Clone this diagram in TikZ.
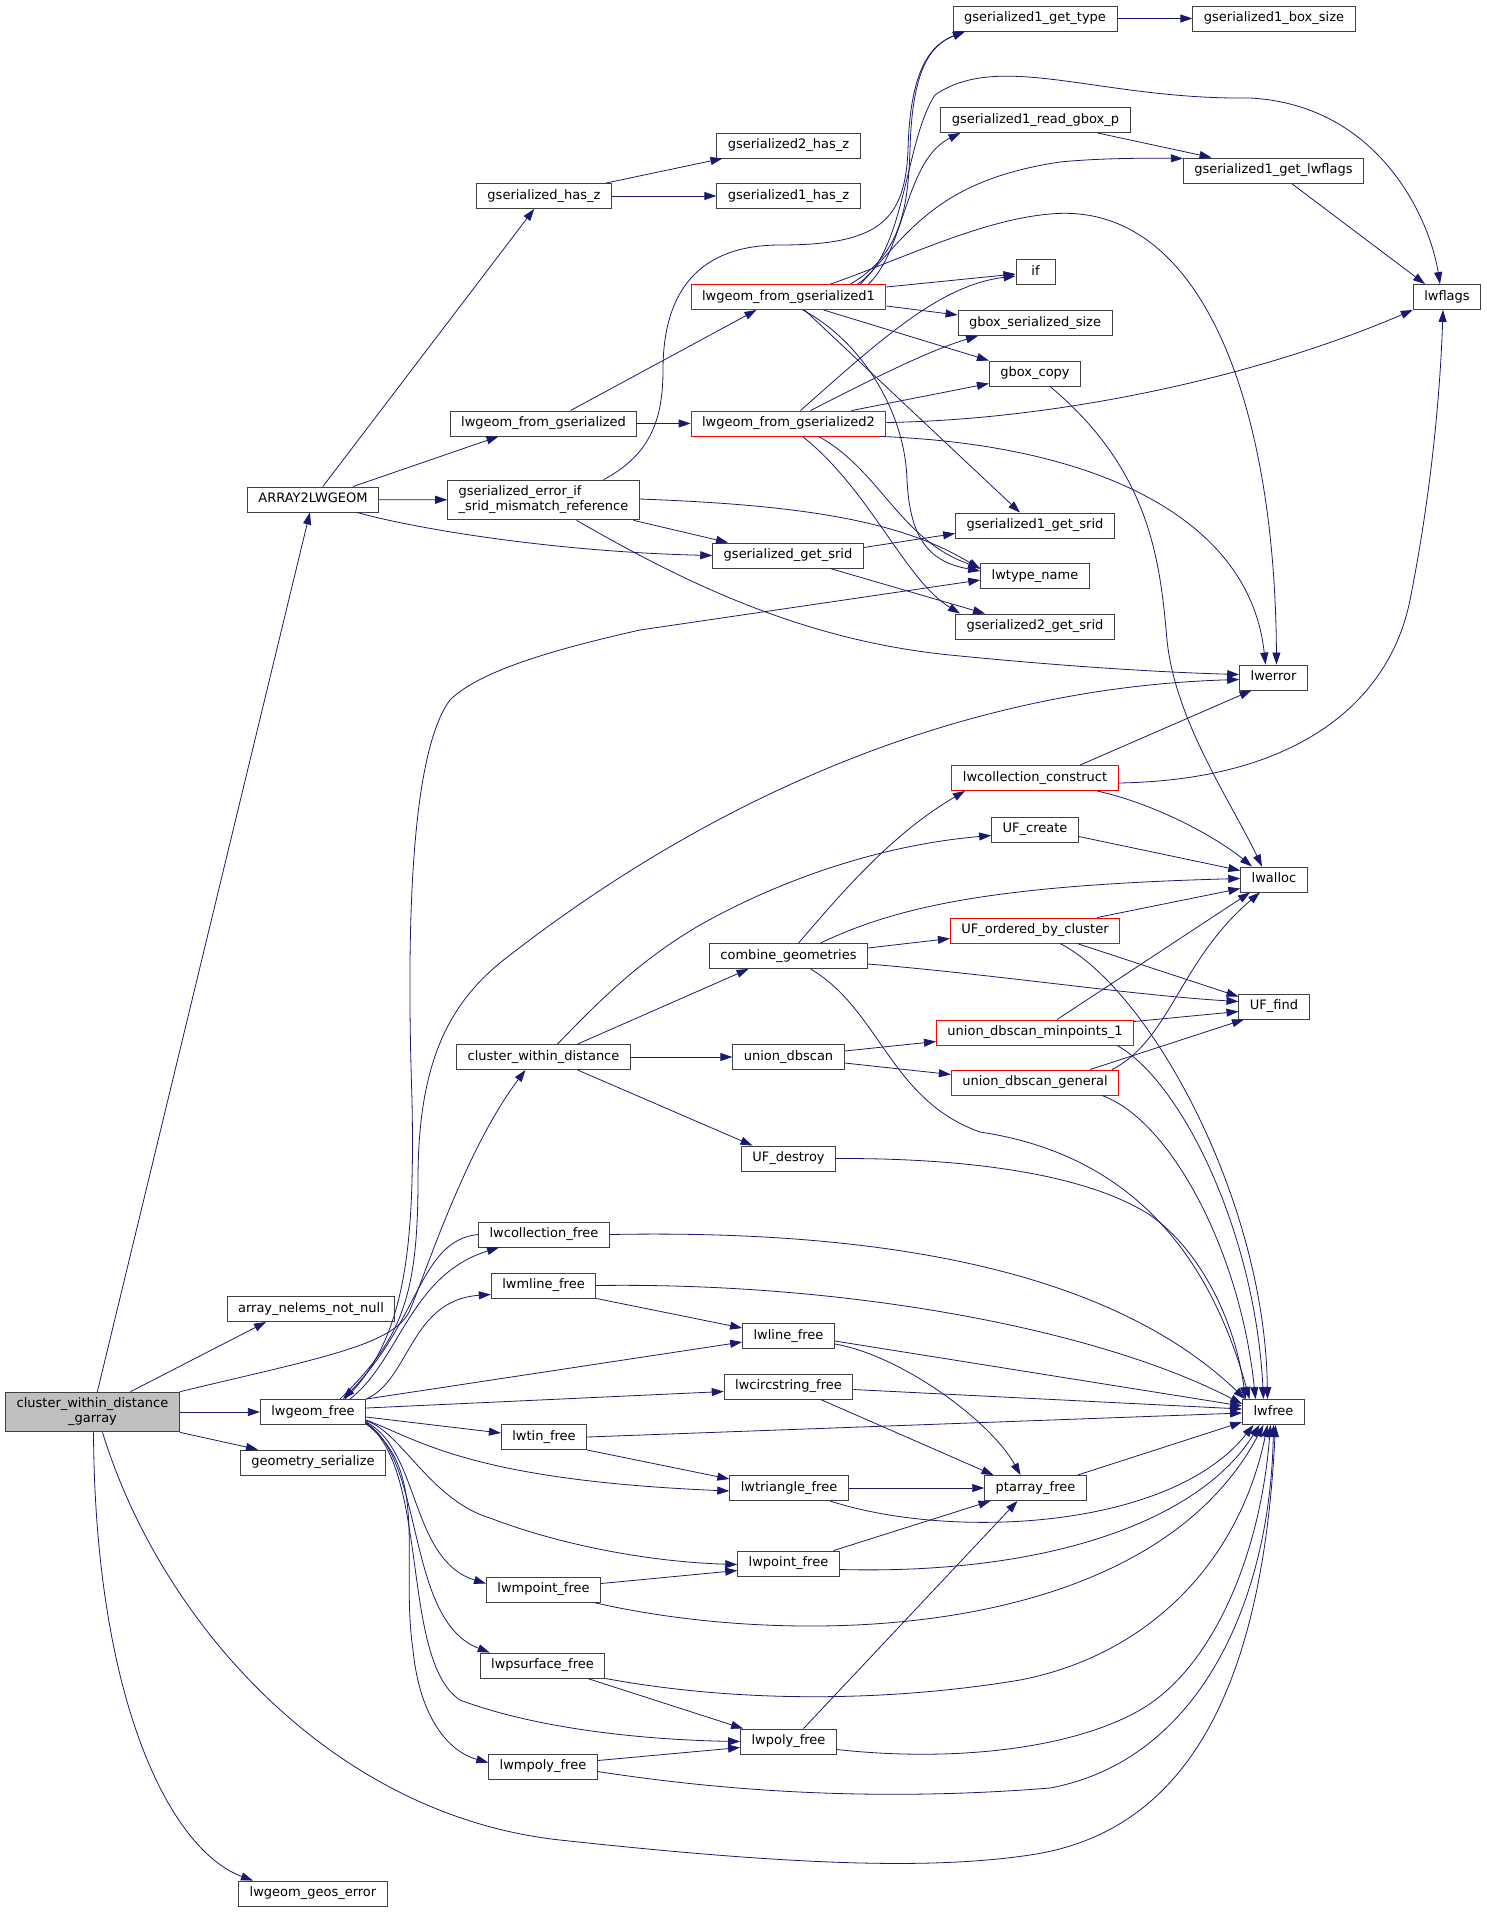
\documentclass[tikz,border=0pt]{standalone}
\usepackage{fontspec}
\usepackage{tikz}
\usetikzlibrary{arrows.meta,positioning}
\newfontfamily\dvsans{DejaVu Sans}
\newcommand{\fnfont}{\dvsans\fontsize{13}{15}\selectfont}
\definecolor{edgeblue}{HTML}{191970}
\definecolor{boxgray}{HTML}{404040}
\definecolor{rootgray}{HTML}{BFBFBF}
\tikzstyle{fnbase} = [rectangle, draw=boxgray, line width=0.9pt, fill=white,
                      font=\fnfont, inner xsep=11pt, inner ysep=5.9pt, minimum width=39pt]
\tikzstyle{fn}     = [fnbase, text height=10pt, text depth=3.2pt]
\tikzstyle{fnred}  = [fn, draw=red]
\tikzstyle{fntwo}  = [fnbase, align=center]
\tikzstyle{call}   = [draw=edgeblue, line width=0.8pt, -{Triangle[length=12pt,width=8pt]}]

\begin{document}
\begin{tikzpicture}[x=1pt, y=-1pt]
		\useasboundingbox (0,0) rectangle (1487,1912);

		\node[fntwo, fill=rootgray] (garray) at (92.5,1412) {cluster\_within\_distance\\\_garray};

		\node[fn] (a2lw)    at (313,499.5)  {ARRAY2LWGEOM};
		\node[fn] (nelems)  at (311,1309)   {array\_nelems\_not\_null};
		\node[fn] (lwgfree) at (313,1412)   {lwgeom\_free};
		\node[fn] (geomser) at (313,1462.5) {geometry\_serialize};
		\node[fn] (geoserr) at (313,1893.5) {lwgeom\_geos\_error};

		\node[fn] (hasz)       at (544,196)    {gserialized\_has\_z};
		\node[fn] (fromgs)     at (543.5,423.5) {lwgeom\_from\_gserialized};
		\node[fntwo, align=left] (sridmm) at (543.5,500) {gserialized\_error\_if\\\_srid\_mismatch\_reference};
		\node[fn] (cwd)        at (543.5,1057) {cluster\_within\_distance};
		\node[fn] (collfree)   at (544,1234.5) {lwcollection\_free};
		\node[fn] (mlinefree)  at (543.5,1285.5) {lwmline\_free};
		\node[fn] (tinfree)    at (544,1437)   {lwtin\_free};
		\node[fn] (mpointfree) at (543.5,1589.5) {lwmpoint\_free};
		\node[fn] (psurffree)  at (542.5,1665.5) {lwpsurface\_free};
		\node[fn] (mpolyfree)  at (543,1766.5) {lwmpoly\_free};

		\node[fn]    (hasz2)     at (788.5,145.5) {gserialized2\_has\_z};
		\node[fn]    (hasz1)     at (788.5,196)   {gserialized1\_has\_z};
		\node[fnred] (fromgs1)   at (788.5,297)   {lwgeom\_from\_gserialized1};
		\node[fnred] (fromgs2)   at (788.5,423.5) {lwgeom\_from\_gserialized2};
		\node[fn]    (getsrid)   at (788,555.5)   {gserialized\_get\_srid};
		\node[fn]    (combine)   at (788.5,956)   {combine\_geometries};
		\node[fn]    (dbscan)    at (788.5,1057)  {union\_dbscan};
		\node[fn]    (ufdestroy) at (788.5,1158.5) {UF\_destroy};
		\node[fn]    (linefree)  at (788.5,1336)  {lwline\_free};
		\node[fn]    (circfree)  at (788.5,1386.5) {lwcircstring\_free};
		\node[fn]    (trifree)   at (789,1488)    {lwtriangle\_free};
		\node[fn]    (pointfree) at (788.5,1563.5) {lwpoint\_free};
		\node[fn]    (polyfree)  at (788.5,1741.5) {lwpoly\_free};

		\node[fn]    (gettype)   at (1035,18.5)   {gserialized1\_get\_type};
		\node[fn]    (readgbox)  at (1035.5,120)  {gserialized1\_read\_gbox\_p};
		\node[fn]    (ifnode)    at (1035.5,272)  {if};
		\node[fn]    (gboxsize)  at (1035,323)    {gbox\_serialized\_size};
		\node[fn]    (gboxcopy)  at (1035,373.5)  {gbox\_copy};
		\node[fn]    (getsrid1)  at (1035,525.5)  {gserialized1\_get\_srid};
		\node[fn]    (typename)  at (1035,576)    {lwtype\_name};
		\node[fn]    (getsrid2)  at (1035,626.5)  {gserialized2\_get\_srid};
		\node[fnred] (collcons)  at (1035,778)    {lwcollection\_construct};
		\node[fn]    (ufcreate)  at (1035,829.5)  {UF\_create};
		\node[fnred] (ufordered) at (1035,930.5)  {UF\_ordered\_by\_cluster};
		\node[fnred] (minpts)    at (1035,1032.5) {union\_dbscan\_minpoints\_1};
		\node[fnred] (general)   at (1035,1082.5) {union\_dbscan\_general};
		\node[fn]    (ptarr)     at (1035.5,1488) {ptarray\_free};

		\node[fn] (boxsize)  at (1274,18.5)    {gserialized1\_box\_size};
		\node[fn] (getflags) at (1273.5,170.5) {gserialized1\_get\_lwflags};
		\node[fn] (lwerror)  at (1273.5,677.5) {lwerror};
		\node[fn] (lwalloc)  at (1274,879.5)   {lwalloc};
		\node[fn] (uffind)   at (1274,1006.5)  {UF\_find};
		\node[fn] (lwfree)   at (1273.5,1412)  {lwfree};
		\node[fn] (lwflags)  at (1447,297)     {lwflags};

		% cluster_within_distance_garray
		\draw[call] (garray) -- (a2lw);
		\draw[call] ([xshift=38pt]garray.north) -- ([xshift=-45pt]nelems.south);
		\draw[call] (garray.north east) .. controls (320,1358) and (395,1345) .. (410,1310) .. controls (425,1275) and (465,1150) .. ([xshift=-18pt]cwd.south);
		\draw[call] (garray) -- (lwgfree);
		\draw[call] (garray.south east) -- ([xshift=-55pt]geomser.north);
		\draw[call] ([xshift=1pt]garray.south) .. controls (95,1700) and (170,1850) .. ([xshift=-60pt]geoserr.north);
		\draw[call] ([xshift=10pt]garray.south) .. controls (160,1620) and (330,1815) .. (560,1840) .. controls (790,1865) and (930,1870) .. (1030,1855) .. controls (1180,1833) and (1262,1700) .. ([xshift=2pt]lwfree.south);

		% ARRAY2LWGEOM
		\draw[call] (a2lw) -- (hasz);
		\draw[call] ([xshift=40pt]a2lw.north) -- ([xshift=-45pt]fromgs.south);
		\draw[call] (a2lw) -- (sridmm);
		\draw[call] ([xshift=44pt]a2lw.south) .. controls (420,530) and (560,552) .. (getsrid.west);
		\draw[call] ([xshift=62pt]hasz.north) -- ([xshift=-66pt]hasz2.south);
		\draw[call] (hasz) -- (hasz1);
		\draw[call] ([xshift=27pt]fromgs.north) -- ([xshift=-32pt]fromgs1.south);
		\draw[call] (fromgs) -- (fromgs2);

		% gserialized_error_if_srid_mismatch_reference
		\draw[call] ([xshift=60pt]sridmm.north) .. controls (650,455) and (663,420) .. (663,370) .. controls (663,290) and (700,245) .. (780,245) .. controls (880,245) and (905,220) .. (908,150) .. controls (910,70) and (930,45) .. ([xshift=-70pt]gettype.south);
		\draw[call] ([xshift=90pt]sridmm.south) -- ([xshift=-60pt]getsrid.north);
		\draw[call] ([yshift=1pt]sridmm.east) .. controls (800,505) and (900,520) .. ([yshift=7pt]typename.west);
		\draw[call] ([xshift=33pt]sridmm.south) .. controls (680,580) and (800,640) .. (950,655) .. controls (1050,665) and (1150,672) .. ([yshift=3pt]lwerror.west);

		% lwgeom_from_gserialized1
		\draw[call] ([xshift=62pt]fromgs1.north) .. controls (900,255) and (908,210) .. (910,150) .. controls (912,70) and (930,45) .. ([xshift=-70pt]gettype.south);
		\draw[call] ([xshift=69pt]fromgs1.north) .. controls (905,255) and (905,140) .. (935,95) .. controls (1000,50) and (1100,100) .. (1250,98) .. controls (1380,105) and (1430,220) .. ([xshift=-7pt]lwflags.north);
		\draw[call] ([xshift=80pt]fromgs1.north) .. controls (905,250) and (905,160) .. ([xshift=-75pt]readgbox.south);
		\draw[call] ([xshift=72pt]fromgs1.north) .. controls (910,230) and (940,180) .. (1060,162) .. controls (1100,158) and (1150,158) .. ([yshift=12pt]getflags.west);
		\draw[call] ([xshift=42pt]fromgs1.north) .. controls (900,260) and (980,220) .. (1050,214) .. controls (1200,200) and (1275,400) .. ([xshift=3pt]lwerror.north);
		\draw[call] ([yshift=10pt]fromgs1.east) -- ([yshift=-2pt]ifnode.west);
		\draw[call] ([yshift=-9pt]fromgs1.east) -- ([yshift=8pt]gboxsize.west);
		\draw[call] ([xshift=35pt]fromgs1.south) -- (gboxcopy.north west);
		\draw[call] ([xshift=16pt]fromgs1.south) -- ([xshift=-15pt]getsrid1.north);
		\draw[call] ([xshift=14pt]fromgs1.south) .. controls (860,340) and (905,410) .. (907,480) .. controls (910,540) and (930,562) .. ([yshift=5pt]typename.west);

		% lwgeom_from_gserialized2
		\draw[call] ([yshift=1pt]fromgs2.east) .. controls (1050,420) and (1250,380) .. (lwflags.south west);
		\draw[call] ([xshift=12pt]fromgs2.north) .. controls (880,340) and (940,285) .. ([yshift=-4pt]ifnode.west);
		\draw[call] ([xshift=22pt]fromgs2.north) .. controls (870,380) and (930,350) .. ([xshift=-57pt]gboxsize.south);
		\draw[call] ([xshift=63pt]fromgs2.north) -- ([yshift=-10pt]gboxcopy.west);
		\draw[call] ([xshift=92pt]fromgs2.south) .. controls (1100,445) and (1250,520) .. ([xshift=-8pt]lwerror.north);
		\draw[call] ([xshift=30pt]fromgs2.south) .. controls (880,470) and (900,540) .. ([yshift=8pt]typename.west);
		\draw[call] ([xshift=14pt]fromgs2.south) .. controls (870,490) and (905,580) .. ([xshift=-75pt]getsrid2.north);

		\draw[call] ([yshift=8pt]getsrid.east) -- ([yshift=-8pt]getsrid1.west);
		\draw[call] ([xshift=42pt]getsrid.south) -- ([xshift=-50pt]getsrid2.north);
		\draw[call] (gettype) -- (boxsize);
		\draw[call] ([xshift=62pt]readgbox.south) -- ([xshift=-62pt]getflags.north);
		\draw[call] ([xshift=18pt]getflags.south) -- ([xshift=-22pt]lwflags.north);
		\draw[call] ([xshift=15pt]gboxcopy.south) .. controls (1150,470) and (1160,560) .. (1167,640) .. controls (1175,720) and (1230,800) .. ([xshift=-12pt]lwalloc.north);

		% lwgeom_free
		\draw[call] ([xshift=27pt]lwgfree.north) .. controls (400,1340) and (418,1300) .. (418,1180) .. controls (418,1060) and (450,1000) .. (510,955) .. controls (620,870) and (880,690) .. ([yshift=-2pt]lwerror.west);
		\draw[call] ([xshift=32pt]lwgfree.north) .. controls (405,1340) and (415,1250) .. (412,1100) .. controls (408,980) and (405,760) .. (450,700) .. controls (480,670) and (560,648) .. (640,630) -- ([yshift=-4pt]typename.west);
		\draw[call] ([xshift=37pt]lwgfree.north) .. controls (400,1360) and (410,1275) .. ([xshift=-45pt]collfree.south);
		\draw[call] (collfree.west) .. controls (420,1240) and (420,1320) .. ([xshift=30pt]lwgfree.north);
		\draw[call] (lwgfree.north east) .. controls (410,1380) and (410,1300) .. ([yshift=-9pt]mlinefree.west);
		\draw[call] (lwgfree.north east) -- ([yshift=-6pt]linefree.west);
		\draw[call] ([yshift=4pt]lwgfree.east) -- ([yshift=-5pt]circfree.west);
		\draw[call] ([yshift=-5pt]lwgfree.east) -- ([yshift=4pt]tinfree.west);
		\draw[call] ([yshift=-8pt]lwgfree.east) .. controls (420,1440) and (470,1480) .. ([yshift=-3pt]trifree.west);
		\draw[call] ([yshift=-9pt]lwgfree.east) .. controls (400,1430) and (430,1500) .. (490,1518) .. controls (560,1545) and (650,1562) .. ([yshift=-1pt]pointfree.west);
		\draw[call] ([yshift=-10pt]lwgfree.east) .. controls (420,1450) and (410,1560) .. ([yshift=6pt]mpointfree.west);
		\draw[call] ([yshift=-11pt]lwgfree.east) .. controls (425,1460) and (405,1620) .. ([xshift=10pt]psurffree.north west);
		\draw[call] ([yshift=-11pt]lwgfree.east) .. controls (430,1470) and (400,1660) .. (460,1700) .. controls (540,1730) and (650,1740) .. (polyfree.west);
		\draw[call] ([yshift=-12pt]lwgfree.east) .. controls (430,1470) and (400,1560) .. (413,1650) .. controls (420,1720) and (450,1752) .. ([yshift=4pt]mpolyfree.west);

		% cluster_within_distance
		\draw[call] ([xshift=14pt]cwd.north) .. controls (600,1000) and (640,960) .. (700,925) .. controls (780,880) and (880,845) .. ([yshift=-6pt]ufcreate.west);
		\draw[call] ([xshift=34pt]cwd.north) -- ([xshift=-40pt]combine.south);
		\draw[call] (cwd) -- (dbscan);
		\draw[call] ([xshift=34pt]cwd.south) -- ([xshift=-36pt]ufdestroy.north);

		% combine_geometries
		\draw[call] ([xshift=10pt]combine.north) .. controls (840,895) and (890,835) .. ([xshift=-70pt]collcons.south);
		\draw[call] ([xshift=32pt]combine.north) .. controls (900,905) and (1000,885) .. ([yshift=1pt]lwalloc.west);
		\draw[call] ([yshift=8pt]combine.east) -- ([yshift=-8pt]ufordered.west);
		\draw[call] ([yshift=-8pt]combine.east) .. controls (1000,975) and (1130,995) .. ([yshift=5pt]uffind.west);
		\draw[call] ([xshift=22pt]combine.south) .. controls (880,1010) and (890,1100) .. (980,1132) .. controls (1100,1150) and (1200,1220) .. ([xshift=-24pt]lwfree.north);

		\draw[call] ([yshift=6pt]dbscan.east) -- ([yshift=-9pt]minpts.west);
		\draw[call] ([yshift=-6pt]dbscan.east) -- ([yshift=8pt]general.west);
		\draw[call] (ufdestroy.east) .. controls (950,1158) and (1080,1170) .. (1150,1215) .. controls (1200,1250) and (1235,1320) .. ([xshift=-28pt]lwfree.north);

		\draw[call] ([yshift=-7pt]ufcreate.east) -- ([yshift=9pt]lwalloc.west);
		\draw[call] ([xshift=45pt]collcons.north) -- ([xshift=-22pt]lwerror.south);
		\draw[call] ([yshift=-5pt]collcons.east) .. controls (1300,780) and (1390,700) .. (1410,600) .. controls (1430,500) and (1440,400) .. ([xshift=-4pt]lwflags.south);
		\draw[call] ([xshift=62pt]collcons.south) .. controls (1160,805) and (1220,840) .. ([xshift=-22pt]lwalloc.north);
		\draw[call] ([xshift=62pt]ufordered.north) -- ([yshift=-9pt]lwalloc.west);
		\draw[call] ([xshift=42pt]ufordered.south) -- ([yshift=10pt]uffind.west);
		\draw[call] ([xshift=25pt]ufordered.south) .. controls (1150,990) and (1265,1200) .. ([xshift=-6pt]lwfree.north);
		\draw[call] ([xshift=22pt]minpts.north) -- ([xshift=-24pt]lwalloc.south);
		\draw[call] ([yshift=11pt]minpts.east) -- ([yshift=-5pt]uffind.west);
		\draw[call] ([xshift=82pt]minpts.south) .. controls (1180,1080) and (1255,1230) .. ([xshift=-10pt]lwfree.north);
		\draw[call] ([xshift=77pt]general.north) .. controls (1170,1040) and (1180,960) .. ([xshift=-14pt]lwalloc.south);
		\draw[call] ([xshift=55pt]general.north) -- ([xshift=-30pt]uffind.south);
		\draw[call] ([xshift=67pt]general.south) .. controls (1170,1120) and (1240,1250) .. ([xshift=-18pt]lwfree.north);

		% free functions
		\draw[call] (collfree.east) .. controls (850,1230) and (1100,1260) .. ([xshift=3pt]lwfree.north west);
		\draw[call] (mlinefree.south east) -- ([yshift=8pt]linefree.west);
		\draw[call] (mlinefree.east) .. controls (850,1282) and (1100,1330) .. ([yshift=8pt]lwfree.west);
		\draw[call] ([yshift=-5pt]linefree.east) -- ([yshift=6pt]lwfree.west);
		\draw[call] ([yshift=-8pt]linefree.east) .. controls (900,1355) and (990,1420) .. ([xshift=-15pt]ptarr.north);
		\draw[call] ([yshift=-3pt]circfree.east) -- ([yshift=3pt]lwfree.west);
		\draw[call] ([xshift=32pt]circfree.south) -- ([xshift=-42pt]ptarr.north);
		\draw[call] (tinfree.east) -- ([yshift=-1pt]lwfree.west);
		\draw[call] (tinfree.south east) -- ([yshift=9pt]trifree.west);
		\draw[call] (trifree) -- (ptarr);
		\draw[call] ([xshift=41pt]trifree.south) .. controls (950,1540) and (1170,1530) .. ([xshift=-20pt]lwfree.south);
		\draw[call] ([xshift=42pt]ptarr.north) -- ([yshift=-10pt]lwfree.west);
		\draw[call] ([xshift=45pt]pointfree.north) -- ([xshift=-45pt]ptarr.south);
		\draw[call] ([yshift=-6pt]pointfree.east) .. controls (1050,1575) and (1200,1520) .. ([xshift=-14pt]lwfree.south);
		\draw[call] ([yshift=6pt]mpointfree.east) -- ([yshift=-7pt]pointfree.west);
		\draw[call] ([xshift=50pt]mpointfree.south) .. controls (800,1650) and (1150,1640) .. ([xshift=-10pt]lwfree.south);
		\draw[call] ([xshift=45pt]psurffree.south) -- ([xshift=3pt]polyfree.north west);
		\draw[call] (psurffree.south east) .. controls (750,1705) and (900,1700) .. (1020,1680) .. controls (1150,1655) and (1240,1560) .. ([xshift=-6pt]lwfree.south);
		\draw[call] ([xshift=15pt]polyfree.north) -- ([xshift=-18pt]ptarr.south);
		\draw[call] ([yshift=-8pt]polyfree.east) .. controls (950,1762) and (1070,1750) .. (1140,1710) .. controls (1210,1670) and (1260,1560) .. ([xshift=-3pt]lwfree.south);
		\draw[call] ([yshift=6pt]mpolyfree.east) -- ([yshift=-6pt]polyfree.west);
		\draw[call] ([yshift=-5pt]mpolyfree.east) .. controls (750,1795) and (900,1800) .. (1050,1788) .. controls (1200,1760) and (1270,1600) .. (lwfree.south);
\end{tikzpicture}
\end{document}
